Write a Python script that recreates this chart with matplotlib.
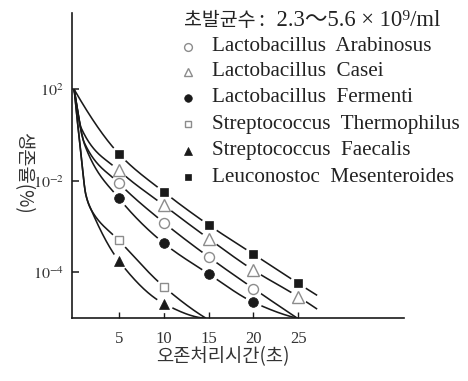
import numpy as np
import matplotlib
matplotlib.use("Agg")
import matplotlib.pyplot as plt
from matplotlib.lines import Line2D

plt.rcParams["mathtext.fontset"] = "stix"

# ---- data: log10 of survival ratio (%) after ozone treatment ----
times = [5, 10, 15, 20, 25]
leuconostoc = [-0.82, -2.24, -2.96, -3.60, -4.24]
casei = [-1.54, -2.53, -3.26, -3.95, -4.53]
arabinosus = [-2.05, -2.91, -3.66, -4.35]
fermenti = [-2.38, -3.36, -4.03, -4.65]
thermophilus = [-3.30, -4.31]
faecalis = [-3.75, -4.68]

start_log = 2.0  # 100 % at t = 0

# extra guide points of the fitted curves (t, log10 %)
leuconostoc_guide = ([], [])
casei_guide = ([0.8], [0.3])
arabinosus_guide = ([1.1], [-0.3])
fermenti_guide = ([1.2], [-0.45])
thermophilus_guide = ([0.75, 1.3, 1.9], [-0.8, -2.3, -2.63])
faecalis_guide = ([0.75, 1.3, 1.9], [-0.8, -2.3, -2.63])

# where each fitted curve ends (t, log10 %)
leuconostoc_end = (27.1, -4.50)
casei_end = (27.1, -4.80)
arabinosus_end = (24.9, -5.0)
fermenti_end = (24.9, -5.0)
thermophilus_end = (14.7, -5.0)
faecalis_end = (14.6, -5.0)

names = ["Lactobacillus  Arabinosus", "Lactobacillus  Casei",
         "Lactobacillus  Fermenti", "Streptococcus  Thermophilus",
         "Streptococcus  Faecalis", "Leuconostoc  Mesenteroides"]

y_ticks = [1e2, 1e-2, 1e-4]
y_tick_labels = [r"$10^{2}$", r"$10^{-2}$", r"$10^{-4}$"]
x_ticks = [5, 10, 15, 20, 25]

# ---- axis scale: upper part compressed (4 decades per step), lower 2 decades per step ----
def fwd(v):
    L = np.log10(np.clip(np.asarray(v, dtype=float), 1e-300, None))
    return np.where(L >= -2, (L + 2) / 4.0, (L + 2) / 2.0)


def inv(p):
    p = np.asarray(p, dtype=float)
    L = np.where(p >= 0, 4.0 * p - 2, 2.0 * p - 2)
    return 10.0 ** L


def mono_hermite(x, y, xn):
    x = np.asarray(x, float)
    y = np.asarray(y, float)
    h = np.diff(x)
    d = np.diff(y) / h
    n = len(x)
    m = np.zeros(n)
    for k in range(1, n - 1):
        if d[k - 1] * d[k] <= 0:
            m[k] = 0.0
        else:
            w1 = 2 * h[k] + h[k - 1]
            w2 = h[k] + 2 * h[k - 1]
            m[k] = (w1 + w2) / (w1 / d[k - 1] + w2 / d[k])

    def edge(h0, h1, d0, d1):
        s = ((2 * h0 + h1) * d0 - h0 * d1) / (h0 + h1)
        if np.sign(s) != np.sign(d0):
            return 0.0
        if np.sign(d0) != np.sign(d1) and abs(s) > abs(3 * d0):
            return 3 * d0
        return s

    if n > 2:
        m[0] = edge(h[0], h[1], d[0], d[1])
        m[-1] = edge(h[-1], h[-2], d[-1], d[-2])
    else:
        m[0] = m[-1] = d[0]
    idx = np.clip(np.searchsorted(x, xn) - 1, 0, n - 2)
    hh = h[idx]
    s = (xn - x[idx]) / hh
    h00 = 2 * s**3 - 3 * s**2 + 1
    h10 = s**3 - 2 * s**2 + s
    h01 = -2 * s**3 + 3 * s**2
    h11 = s**3 - s**2
    return h00 * y[idx] + h10 * hh * m[idx] + h01 * y[idx + 1] + h11 * hh * m[idx + 1]


W, H = 468, 381
fig = plt.figure(figsize=(W / 100, H / 100), dpi=100)
fig.patch.set_facecolor("white")

px_left, px_right, px_top, px_bottom = 72.4, 404.1, 13.0, 318.25
ax = fig.add_axes([px_left / W, (H - px_bottom) / H,
                   (px_right - px_left) / W, (px_bottom - px_top) / H])
ax.set_yscale("function", functions=(fwd, inv))
ax.set_xlim(-0.2, 36.8)
ax.set_ylim(1e-5, 10 ** 5.344)

ink = "#1a1a1a"
grey = "#8c8c8c"

series = [
    (arabinosus, arabinosus_guide, arabinosus_end,
     dict(marker="o", ms=7.2, mfc="white", mec=grey, mew=1.0)),
    (casei, casei_guide, casei_end,
     dict(marker="^", ms=8.2, mfc="white", mec=grey, mew=1.0)),
    (fermenti, fermenti_guide, fermenti_end,
     dict(marker="o", ms=7.0, mfc=ink, mec=ink, mew=0.5)),
    (thermophilus, thermophilus_guide, thermophilus_end,
     dict(marker="s", ms=5.7, mfc="white", mec=grey, mew=1.0)),
    (faecalis, faecalis_guide, faecalis_end,
     dict(marker="^", ms=7.7, mfc=ink, mec=ink, mew=0.5)),
    (leuconostoc, leuconostoc_guide, leuconostoc_end,
     dict(marker="s", ms=5.5, mfc=ink, mec=ink, mew=0.5)),
]

for vals, guide, end, style in series:
    t_pts = times[:len(vals)]
    kt = [0.0] + list(guide[0]) + list(t_pts) + [end[0]]
    kl = [start_log] + list(guide[1]) + list(vals) + [end[1]]
    kpos = fwd(10.0 ** np.array(kl))
    tt = np.linspace(0, end[0], 600)
    curve = inv(mono_hermite(kt, kpos, tt))
    ax.plot(tt, curve, color=ink, lw=1.15, zorder=2, solid_capstyle="butt")
    yv = 10.0 ** np.array(vals)
    ax.plot(t_pts, yv, ls="none", marker="o", ms=12.5, mfc="white",
            mec="none", zorder=3)
    ax.plot(t_pts, yv, ls="none", zorder=4, **style)

for side in ("top", "right"):
    ax.spines[side].set_visible(False)
for side in ("left", "bottom"):
    ax.spines[side].set_linewidth(1.2)
    ax.spines[side].set_color(ink)

ax.set_yticks(y_ticks)
ax.set_yticklabels(y_tick_labels)
ax.yaxis.set_minor_locator(matplotlib.ticker.NullLocator())
ax.set_xticks(x_ticks)
ax.set_xticklabels([str(v) for v in x_ticks])
ax.tick_params(axis="y", direction="in", length=5, width=1.1, color=ink,
               pad=6, labelsize=11.5, labelcolor="#333333")
ax.tick_params(axis="x", direction="in", length=4, width=1.0, color=ink,
               pad=9, labelsize=12, labelcolor="#333333")
for lab in ax.get_xticklabels():
    lab.set_family("Liberation Serif")

serif = ["Liberation Serif", "Noto Sans CJK KR", "DejaVu Serif"]
kor = ["Noto Sans CJK KR", "DejaVu Sans"]

# axis titles
fig.text(223 / W, 1 - 357 / H, "오존처리시간(초)", family=kor, fontsize=13.5,
         color="#333333", ha="center", va="center")
fig.text(23 / W, 1 - 173 / H, "생존율(%)", family=kor, fontsize=13.5,
         color="#333333", ha="center", va="center", rotation=-90)

# header and key
fig.text(184 / W, 1 - 21 / H, "초발균수", family=kor, fontsize=14,
         color="#222222", ha="left", va="center")
fig.text(259 / W, 1 - 21 / H, ":  2.3～5.6 × 10⁹/ml", family=serif,
         fontsize=16.3, color="#222222", ha="left", va="center")

key_styles = [s[3] for s in series]
row_y = [46.7, 71.7, 97.5, 124.0, 150.5, 177.0]
for name, style, ry in zip(names, key_styles, row_y):
    st = dict(style)
    st["ms"] = st["ms"] * 0.78
    fig.add_artist(Line2D([188 / W], [1 - ry / H], ls="none",
                          transform=fig.transFigure, **st))
    fig.text(211.5 / W, 1 - ry / H, name, family=serif, fontsize=15.2,
             color="#222222", ha="left", va="center")

fig.savefig("out.png", dpi=100)
